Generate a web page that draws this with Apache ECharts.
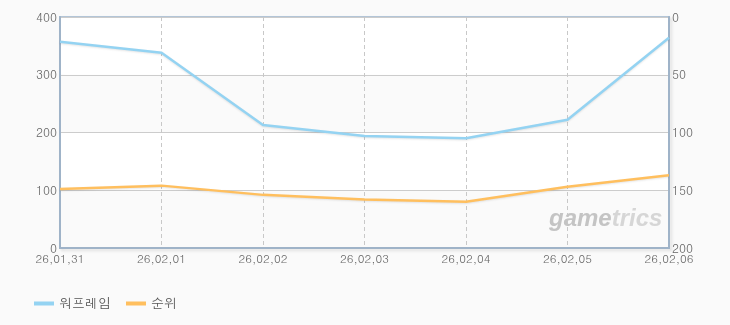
<!DOCTYPE html>
<html><head><meta charset="utf-8">
<script src="https://cdn.jsdelivr.net/npm/echarts@6/dist/echarts.min.js"></script>
<style>html,body{margin:0;padding:0;background:#fafafa}#c{width:730px;height:325px}</style>
</head><body><div id="c"></div>
<script>
const categories = ['26,01,31','26,02,01','26,02,02','26,02,03','26,02,04','26,02,05','26,02,06'];
const seriesNames = ['워프레임','순위'];
const warframeValues = [357, 338, 213, 194, 190, 222, 364];
const rankValues = [149, 146, 154, 158, 160, 147, 137];
const leftTicks = {min:0, max:400, interval:100};
const rightTicks = {min:0, max:200, interval:50};

const font = 'Dotum, "Noto Sans CJK KR", sans-serif';
const chart = echarts.init(document.getElementById('c'));
chart.setOption({
  backgroundColor:'#fafafa',
  animation:false,
  grid:{left:60,right:61,top:17,bottom:77,show:true,borderColor:'#b3c5d7',borderWidth:2,backgroundColor:'transparent',
        shadowColor:'rgba(0,0,0,0.12)',shadowBlur:3,shadowOffsetX:2,shadowOffsetY:2},
  legend:{left:29,top:292,icon:'rect',itemWidth:20,itemHeight:4,itemGap:15,
          textStyle:{color:'#555',fontSize:13,fontFamily:font},data:seriesNames},
  xAxis:{type:'category',data:categories,boundaryGap:false,
    axisLine:{show:true,lineStyle:{color:'#9fb3c8',width:2}},
    axisTick:{show:false},
    axisLabel:{color:'#666',fontSize:11.5,fontFamily:font,margin:5,showMaxLabel:true,showMinLabel:true,interval:0},
    splitLine:{show:true,lineStyle:{color:'#c8c8c8',type:[4,3],width:1}}},
  yAxis:[
    {type:'value',min:leftTicks.min,max:leftTicks.max,interval:leftTicks.interval,
     axisLine:{show:true,lineStyle:{color:'#9fb3c8',width:2}},axisTick:{show:false},
     axisLabel:{color:'#666',fontSize:12,fontFamily:font,margin:3},
     splitLine:{show:true,lineStyle:{color:'#cccccc',width:1}},
     splitArea:{show:true,areaStyle:{color:['#fafafa','#ffffff']}}},
    {type:'value',inverse:true,min:rightTicks.min,max:rightTicks.max,interval:rightTicks.interval,
     axisLine:{show:true,lineStyle:{color:'#9fb3c8',width:2}},axisTick:{show:false},
     axisLabel:{color:'#666',fontSize:12,fontFamily:font,margin:3},
     splitLine:{show:false}}
  ],
  graphic:[{type:'text',left:549,top:207,z:1,silent:true,
    style:{text:'{a|game}{b|trics}',rich:{
      a:{fill:'#c4c4c4',fontSize:24,fontWeight:'bold',fontStyle:'italic',fontFamily:'"Liberation Sans", sans-serif'},
      b:{fill:'#d6d6d6',fontSize:24,fontWeight:'bold',fontStyle:'italic',fontFamily:'"Liberation Sans", sans-serif'}}}}],
  series:[
    {name:seriesNames[0],type:'line',yAxisIndex:0,data:warframeValues,showSymbol:false,symbol:'none',z:3,
     itemStyle:{color:'#94d3f2'},
     lineStyle:{color:'#94d3f2',width:2.5,shadowColor:'rgba(0,0,0,0.1)',shadowBlur:2,shadowOffsetY:1}},
    {name:seriesNames[1],type:'line',yAxisIndex:1,data:rankValues,showSymbol:false,symbol:'none',z:3,
     itemStyle:{color:'#ffbf5e'},
     lineStyle:{color:'#ffbf5e',width:2.5,shadowColor:'rgba(0,0,0,0.1)',shadowBlur:2,shadowOffsetY:1}}
  ]
});
</script></body></html>
